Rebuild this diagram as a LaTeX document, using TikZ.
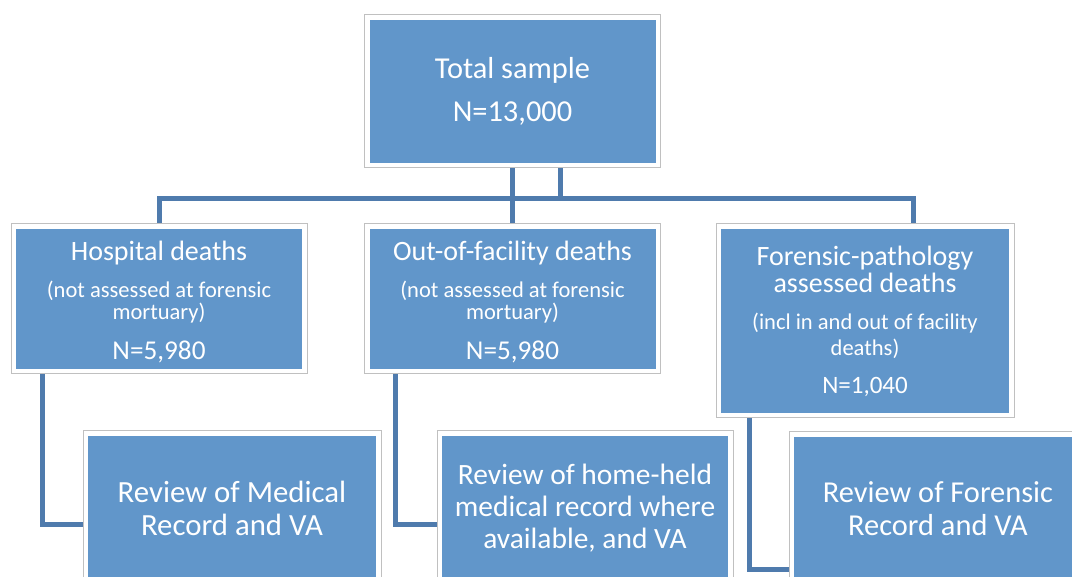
\documentclass[tikz,border=0pt]{standalone}
\usepackage{fontspec}
\setmainfont{Carlito}
\usetikzlibrary{backgrounds}
\definecolor{boxblue}{RGB}{97,150,202}
\definecolor{linkblue}{RGB}{79,123,173}
\definecolor{framegray}{RGB}{192,192,192}
\newcommand\fsz[1]{\fontsize{#1pt}{0pt}\selectfont}
\newcommand\stk[1]{\vbox{\baselineskip=0pt\lineskiplimit=-300pt\lineskip=0pt\halign{\hfil##\hfil\cr#1\crcr}}}
\newcommand\nl[1]{\cr\noalign{\vskip#1}}
\tikzset{
  box/.style={draw=framegray, line width=0.75pt, fill=white, inner sep=0pt,
    text=white,
    path picture={\fill[boxblue] ([shift={(5,5)}]path picture bounding box.north west)
      rectangle ([shift={(-5,-5)}]path picture bounding box.south east);}},
  conn/.style={draw=linkblue, line width=3.75pt, line join=miter}
}
\begin{document}
\begin{tikzpicture}[x=0.75pt, y=-0.75pt]
\useasboundingbox (0,0) rectangle (1072,577);

\node[box, minimum width=222pt, minimum height=114.75pt] (top) at (512.5,91.5)
  {\stk{{\fsz{22.8}Total sample}\nl{32.25pt}{\fsz{22.8}N=13,000}}};

\node[box, minimum width=222pt, minimum height=112.5pt] (hosp) at (159,299)
  {\stk{\noalign{\vskip4.5pt}{\fsz{21}Hospital deaths}\nl{27.75pt}{\fsz{16.9}(not assessed at forensic}\nl{16.5pt}{\fsz{16.9}mortuary)}\nl{30pt}{\fsz{20.4}N=5,980}}};

\node[box, minimum width=222pt, minimum height=112.5pt] (mid) at (512.5,299)
  {\stk{\noalign{\vskip4.5pt}{\fsz{21}Out-of-facility deaths}\nl{27.75pt}{\fsz{16.9}(not assessed at forensic}\nl{16.5pt}{\fsz{16.9}mortuary)}\nl{30pt}{\fsz{20.4}N=5,980}}};

\node[box, minimum width=223.5pt, minimum height=145.5pt] (fore) at (865,321)
  {\stk{{\fsz{21}Forensic-pathology}\nl{20.25pt}{\fsz{21}assessed deaths}\nl{27.75pt}{\fsz{16.9}(incl in and out of facility}\nl{19.5pt}{\fsz{16.9}deaths)}\nl{28.5pt}{\fsz{18.75}N=1,040}}};

\node[box, minimum width=223.5pt, minimum height=115.5pt] (b1) at (232,508)
  {\stk{{\fsz{23.1}Review of Medical}\nl{24.75pt}{\fsz{23.1}Record and VA}}};

\node[box, minimum width=222pt, minimum height=115.5pt] (b2) at (585,508)
  {\stk{{\fsz{22.1}Review of home-held}\nl{24pt}{\fsz{22.1}medical record where}\nl{24pt}{\fsz{22.1}available, and VA}}};

\node[box, minimum width=223.5pt, minimum height=115.5pt] (b3) at (938,509)
  {\stk{{\fsz{22.8}Review of Forensic}\nl{24.75pt}{\fsz{22.8}Record and VA}}};

\coordinate (k) at (560,199);
\coordinate (fj) at (913.5,199);
\coordinate (h1) at (42.5,524.5);
\coordinate (h2) at (395.5,524.5);
\coordinate (h3) at (749.5,569.5);

\begin{scope}[on background layer]
\draw[conn] (top.south) -- (mid.north);
\draw[conn] (top.south -| k) -- (k);
\draw[conn] (hosp.north) -- (hosp.north |- k) -- (fj) -- (fj |- fore.north);
\draw[conn] (hosp.south -| h1) -- (h1) -- (h1 -| b1.west);
\draw[conn] (mid.south -| h2) -- (h2) -- (h2 -| b2.west);
\draw[conn] (fore.south -| h3) -- (h3) -- (h3 -| b3.west);
\end{scope}
\end{tikzpicture}
\end{document}
